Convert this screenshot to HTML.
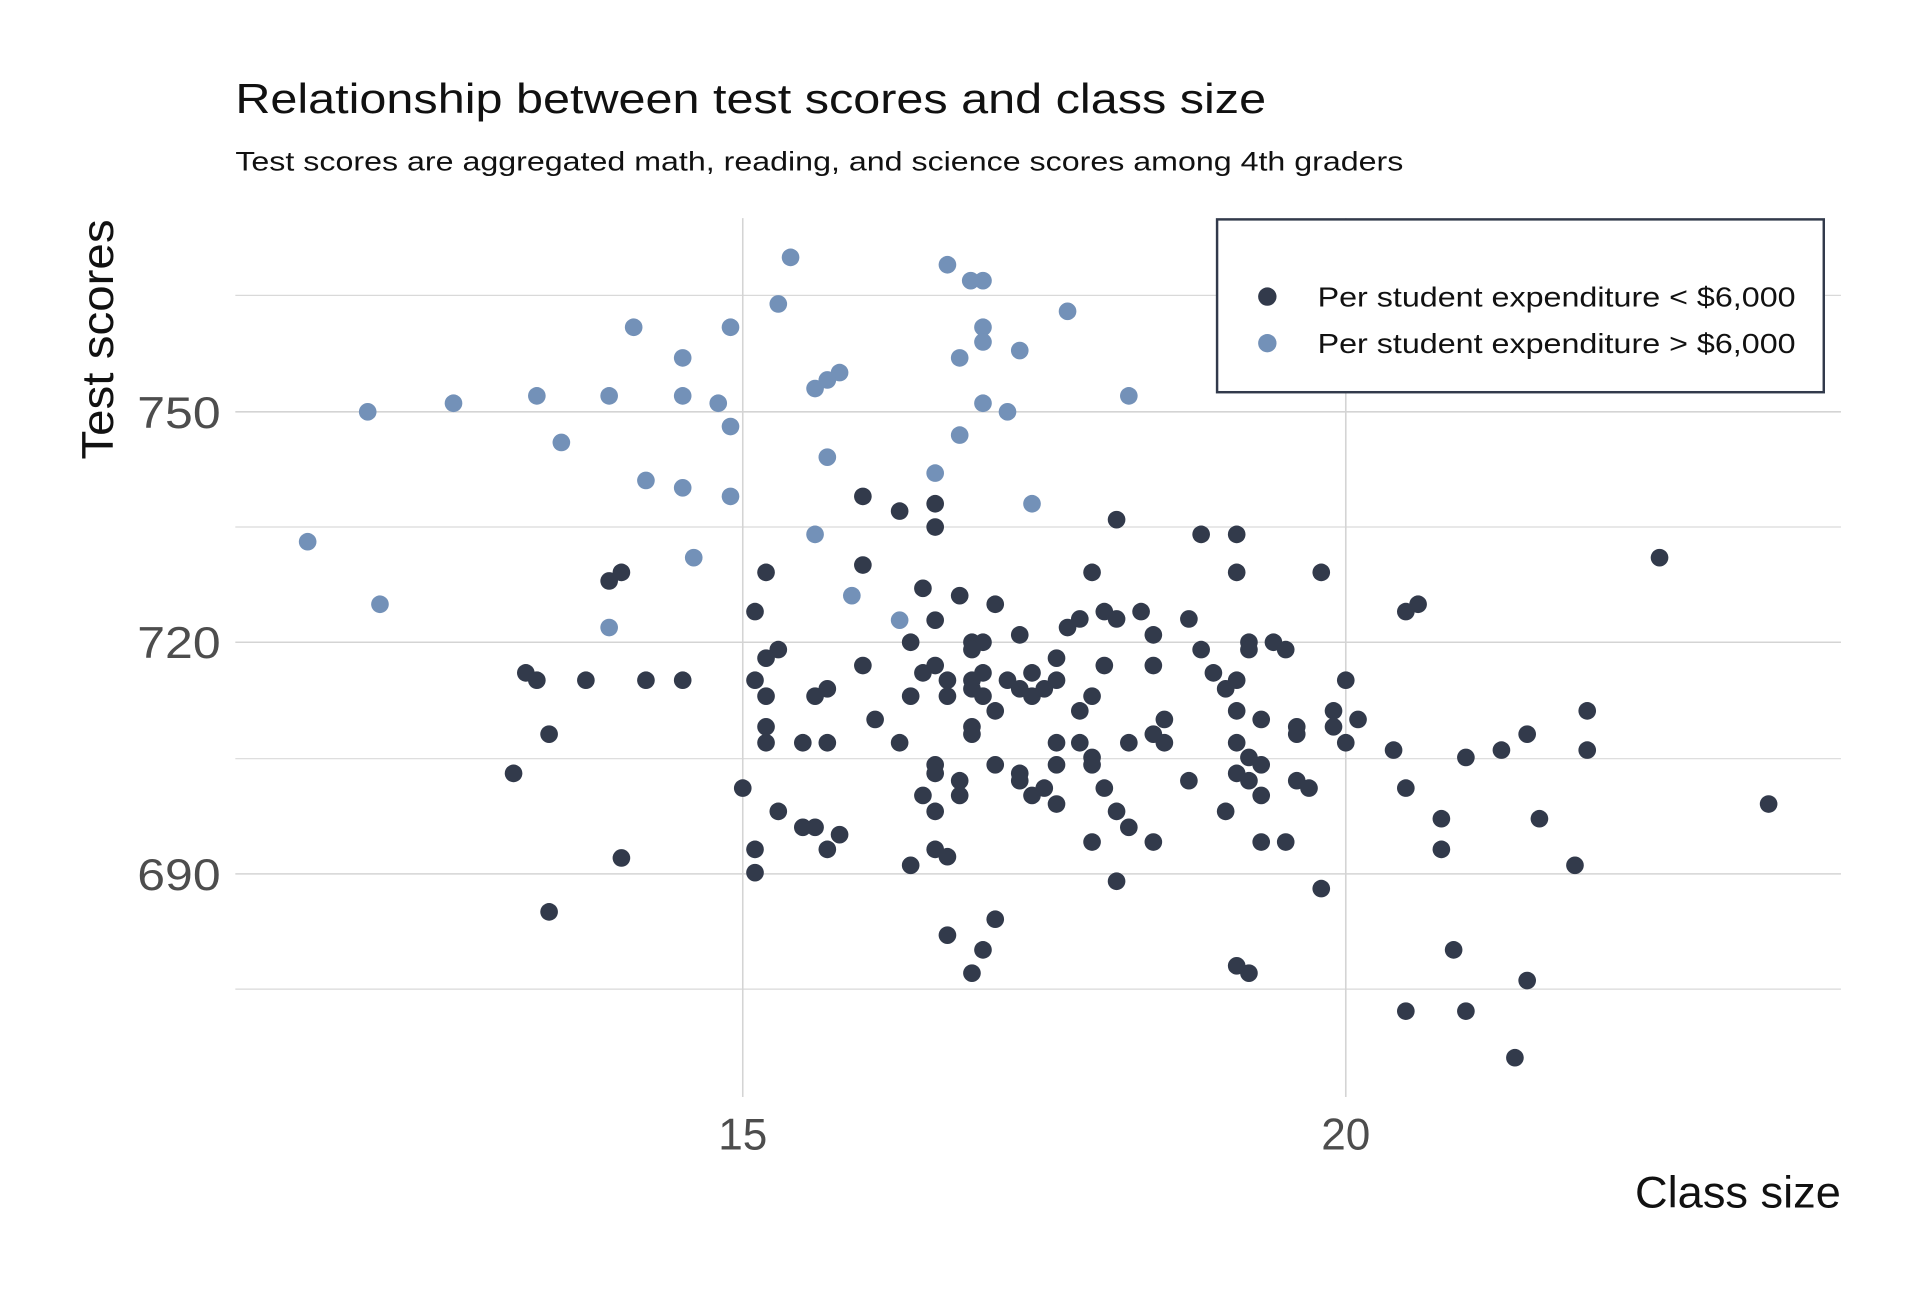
<!DOCTYPE html>
<html><head><meta charset="utf-8"><style>html,body{margin:0;padding:0;background:#fff}svg{display:block}</style></head>
<body>
<svg width="1920" height="1296" viewBox="0 0 1566.5 1057.4" xmlns="http://www.w3.org/2000/svg" font-family="'Liberation Sans', sans-serif">
<rect width="1567" height="1058" fill="#fff"/>
<g stroke="#d9d9d9" stroke-width="1">
<line x1="192" x2="1502" y1="241" y2="241"/><line x1="192" x2="1502" y1="430" y2="430"/>
<line x1="192" x2="1502" y1="619" y2="619"/><line x1="192" x2="1502" y1="807" y2="807"/>
</g>
<g stroke="#d4d4d4" stroke-width="1.3">
<line x1="192" x2="1502" y1="336" y2="336"/><line x1="192" x2="1502" y1="524" y2="524"/><line x1="192" x2="1502" y1="713" y2="713"/>
<line x1="606" x2="606" y1="178" y2="895"/><line x1="1098" x2="1098" y1="178" y2="895"/>
</g>
<text x="192" y="92" font-size="34" fill="#111" textLength="841" lengthAdjust="spacingAndGlyphs">Relationship between test scores and class size</text>
<text x="192" y="139" font-size="22" fill="#111" textLength="953" lengthAdjust="spacingAndGlyphs">Test scores are aggregated math, reading, and science scores among 4th graders</text>
<g font-size="36" fill="#4d4d4d" text-anchor="end">
<text x="180" y="349" textLength="68" lengthAdjust="spacingAndGlyphs">750</text>
<text x="180" y="537" textLength="68" lengthAdjust="spacingAndGlyphs">720</text>
<text x="180" y="726" textLength="68" lengthAdjust="spacingAndGlyphs">690</text>
</g>
<g font-size="36" fill="#4d4d4d" text-anchor="middle">
<text x="606" y="938">15</text><text x="1098" y="938">20</text>
</g>
<text x="1502" y="985" font-size="36" fill="#111" text-anchor="end" textLength="168" lengthAdjust="spacingAndGlyphs">Class size</text>
<text transform="translate(92,375) rotate(-90)" font-size="36" fill="#111" textLength="196" lengthAdjust="spacingAndGlyphs">Test scores</text>
<g fill="#7391b8">
<circle cx="645" cy="210" r="7.2"/><circle cx="773" cy="216" r="7.2"/><circle cx="792" cy="229" r="7.2"/><circle cx="802" cy="229" r="7.2"/><circle cx="635" cy="248" r="7.2"/><circle cx="871" cy="254" r="7.2"/><circle cx="517" cy="267" r="7.2"/><circle cx="596" cy="267" r="7.2"/><circle cx="802" cy="267" r="7.2"/><circle cx="802" cy="279" r="7.2"/><circle cx="832" cy="286" r="7.2"/><circle cx="557" cy="292" r="7.2"/><circle cx="783" cy="292" r="7.2"/><circle cx="685" cy="304" r="7.2"/><circle cx="675" cy="310" r="7.2"/><circle cx="665" cy="317" r="7.2"/><circle cx="438" cy="323" r="7.2"/><circle cx="497" cy="323" r="7.2"/><circle cx="557" cy="323" r="7.2"/><circle cx="586" cy="329" r="7.2"/><circle cx="921" cy="323" r="7.2"/><circle cx="370" cy="329" r="7.2"/><circle cx="300" cy="336" r="7.2"/><circle cx="802" cy="329" r="7.2"/><circle cx="822" cy="336" r="7.2"/><circle cx="596" cy="348" r="7.2"/><circle cx="783" cy="355" r="7.2"/><circle cx="458" cy="361" r="7.2"/><circle cx="675" cy="373" r="7.2"/><circle cx="763" cy="386" r="7.2"/><circle cx="527" cy="392" r="7.2"/><circle cx="557" cy="398" r="7.2"/><circle cx="596" cy="405" r="7.2"/><circle cx="842" cy="411" r="7.2"/><circle cx="251" cy="442" r="7.2"/><circle cx="665" cy="436" r="7.2"/><circle cx="566" cy="455" r="7.2"/><circle cx="695" cy="486" r="7.2"/><circle cx="310" cy="493" r="7.2"/><circle cx="734" cy="506" r="7.2"/><circle cx="497" cy="512" r="7.2"/>
</g>
<g fill="#323a4b">
<circle cx="704" cy="405" r="7.2"/><circle cx="734" cy="417" r="7.2"/><circle cx="763" cy="411" r="7.2"/><circle cx="763" cy="430" r="7.2"/><circle cx="911" cy="424" r="7.2"/><circle cx="980" cy="436" r="7.2"/><circle cx="1009" cy="436" r="7.2"/><circle cx="704" cy="461" r="7.2"/><circle cx="625" cy="467" r="7.2"/><circle cx="507" cy="467" r="7.2"/><circle cx="497" cy="474" r="7.2"/><circle cx="891" cy="467" r="7.2"/><circle cx="1009" cy="467" r="7.2"/><circle cx="1078" cy="467" r="7.2"/><circle cx="1354" cy="455" r="7.2"/><circle cx="753" cy="480" r="7.2"/><circle cx="783" cy="486" r="7.2"/><circle cx="812" cy="493" r="7.2"/><circle cx="1157" cy="493" r="7.2"/><circle cx="1147" cy="499" r="7.2"/><circle cx="616" cy="499" r="7.2"/><circle cx="763" cy="506" r="7.2"/><circle cx="901" cy="499" r="7.2"/><circle cx="881" cy="505" r="7.2"/><circle cx="871" cy="512" r="7.2"/><circle cx="911" cy="505" r="7.2"/><circle cx="931" cy="499" r="7.2"/><circle cx="970" cy="505" r="7.2"/><circle cx="832" cy="518" r="7.2"/><circle cx="743" cy="524" r="7.2"/><circle cx="941" cy="518" r="7.2"/><circle cx="793" cy="524" r="7.2"/><circle cx="802" cy="524" r="7.2"/><circle cx="793" cy="530" r="7.2"/><circle cx="635" cy="530" r="7.2"/><circle cx="625" cy="537" r="7.2"/><circle cx="980" cy="530" r="7.2"/><circle cx="1019" cy="524" r="7.2"/><circle cx="1019" cy="530" r="7.2"/><circle cx="1039" cy="524" r="7.2"/><circle cx="1049" cy="530" r="7.2"/><circle cx="704" cy="543" r="7.2"/><circle cx="763" cy="543" r="7.2"/><circle cx="753" cy="549" r="7.2"/><circle cx="773" cy="555" r="7.2"/><circle cx="793" cy="555" r="7.2"/><circle cx="802" cy="549" r="7.2"/><circle cx="822" cy="555" r="7.2"/><circle cx="842" cy="549" r="7.2"/><circle cx="842" cy="568" r="7.2"/><circle cx="862" cy="537" r="7.2"/><circle cx="862" cy="555" r="7.2"/><circle cx="901" cy="543" r="7.2"/><circle cx="941" cy="543" r="7.2"/><circle cx="990" cy="549" r="7.2"/><circle cx="1009" cy="555" r="7.2"/><circle cx="1000" cy="562" r="7.2"/><circle cx="1098" cy="555" r="7.2"/><circle cx="429" cy="549" r="7.2"/><circle cx="438" cy="555" r="7.2"/><circle cx="478" cy="555" r="7.2"/><circle cx="527" cy="555" r="7.2"/><circle cx="557" cy="555" r="7.2"/><circle cx="616" cy="555" r="7.2"/><circle cx="625" cy="568" r="7.2"/><circle cx="665" cy="568" r="7.2"/><circle cx="675" cy="562" r="7.2"/><circle cx="743" cy="568" r="7.2"/><circle cx="773" cy="568" r="7.2"/><circle cx="793" cy="562" r="7.2"/><circle cx="802" cy="568" r="7.2"/><circle cx="832" cy="562" r="7.2"/><circle cx="852" cy="562" r="7.2"/><circle cx="891" cy="568" r="7.2"/><circle cx="812" cy="580" r="7.2"/><circle cx="881" cy="580" r="7.2"/><circle cx="1009" cy="580" r="7.2"/><circle cx="1029" cy="587" r="7.2"/><circle cx="1088" cy="580" r="7.2"/><circle cx="1108" cy="587" r="7.2"/><circle cx="1295" cy="580" r="7.2"/><circle cx="714" cy="587" r="7.2"/><circle cx="950" cy="587" r="7.2"/><circle cx="625" cy="593" r="7.2"/><circle cx="793" cy="593" r="7.2"/><circle cx="793" cy="599" r="7.2"/><circle cx="448" cy="599" r="7.2"/><circle cx="625" cy="606" r="7.2"/><circle cx="655" cy="606" r="7.2"/><circle cx="675" cy="606" r="7.2"/><circle cx="734" cy="606" r="7.2"/><circle cx="862" cy="606" r="7.2"/><circle cx="881" cy="606" r="7.2"/><circle cx="921" cy="606" r="7.2"/><circle cx="941" cy="599" r="7.2"/><circle cx="950" cy="606" r="7.2"/><circle cx="1009" cy="606" r="7.2"/><circle cx="1058" cy="593" r="7.2"/><circle cx="1058" cy="599" r="7.2"/><circle cx="1088" cy="593" r="7.2"/><circle cx="1098" cy="606" r="7.2"/><circle cx="1137" cy="612" r="7.2"/><circle cx="1225" cy="612" r="7.2"/><circle cx="1246" cy="599" r="7.2"/><circle cx="1295" cy="612" r="7.2"/><circle cx="891" cy="618" r="7.2"/><circle cx="891" cy="624" r="7.2"/><circle cx="1019" cy="618" r="7.2"/><circle cx="1029" cy="624" r="7.2"/><circle cx="1196" cy="618" r="7.2"/><circle cx="763" cy="624" r="7.2"/><circle cx="763" cy="631" r="7.2"/><circle cx="812" cy="624" r="7.2"/><circle cx="862" cy="624" r="7.2"/><circle cx="419" cy="631" r="7.2"/><circle cx="783" cy="637" r="7.2"/><circle cx="832" cy="631" r="7.2"/><circle cx="832" cy="637" r="7.2"/><circle cx="1009" cy="631" r="7.2"/><circle cx="1019" cy="637" r="7.2"/><circle cx="970" cy="637" r="7.2"/><circle cx="1058" cy="637" r="7.2"/><circle cx="1068" cy="643" r="7.2"/><circle cx="606" cy="643" r="7.2"/><circle cx="901" cy="643" r="7.2"/><circle cx="1147" cy="643" r="7.2"/><circle cx="753" cy="649" r="7.2"/><circle cx="783" cy="649" r="7.2"/><circle cx="842" cy="649" r="7.2"/><circle cx="852" cy="643" r="7.2"/><circle cx="862" cy="656" r="7.2"/><circle cx="1029" cy="649" r="7.2"/><circle cx="763" cy="662" r="7.2"/><circle cx="635" cy="662" r="7.2"/><circle cx="911" cy="662" r="7.2"/><circle cx="1000" cy="662" r="7.2"/><circle cx="1176" cy="668" r="7.2"/><circle cx="1256" cy="668" r="7.2"/><circle cx="1443" cy="656" r="7.2"/><circle cx="655" cy="675" r="7.2"/><circle cx="665" cy="675" r="7.2"/><circle cx="921" cy="675" r="7.2"/><circle cx="685" cy="681" r="7.2"/><circle cx="616" cy="693" r="7.2"/><circle cx="675" cy="693" r="7.2"/><circle cx="763" cy="693" r="7.2"/><circle cx="773" cy="699" r="7.2"/><circle cx="891" cy="687" r="7.2"/><circle cx="941" cy="687" r="7.2"/><circle cx="1029" cy="687" r="7.2"/><circle cx="1049" cy="687" r="7.2"/><circle cx="1176" cy="693" r="7.2"/><circle cx="507" cy="700" r="7.2"/><circle cx="743" cy="706" r="7.2"/><circle cx="1285" cy="706" r="7.2"/><circle cx="616" cy="712" r="7.2"/><circle cx="911" cy="719" r="7.2"/><circle cx="1078" cy="725" r="7.2"/><circle cx="812" cy="750" r="7.2"/><circle cx="448" cy="744" r="7.2"/><circle cx="773" cy="763" r="7.2"/><circle cx="802" cy="775" r="7.2"/><circle cx="1186" cy="775" r="7.2"/><circle cx="793" cy="794" r="7.2"/><circle cx="1009" cy="788" r="7.2"/><circle cx="1019" cy="794" r="7.2"/><circle cx="1246" cy="800" r="7.2"/><circle cx="1147" cy="825" r="7.2"/><circle cx="1196" cy="825" r="7.2"/><circle cx="1236" cy="863" r="7.2"/>
</g>
<rect x="993" y="179" width="495" height="141" fill="#fff" stroke="#323a4b" stroke-width="2"/>
<circle cx="1034" cy="242" r="7.5" fill="#323a4b"/>
<circle cx="1034" cy="280" r="7.5" fill="#7391b8"/>
<text x="1075" y="250" font-size="23" fill="#111" textLength="390" lengthAdjust="spacingAndGlyphs">Per student expenditure &lt; $6,000</text>
<text x="1075" y="288" font-size="23" fill="#111" textLength="390" lengthAdjust="spacingAndGlyphs">Per student expenditure &gt; $6,000</text>
</svg>
</body></html>
